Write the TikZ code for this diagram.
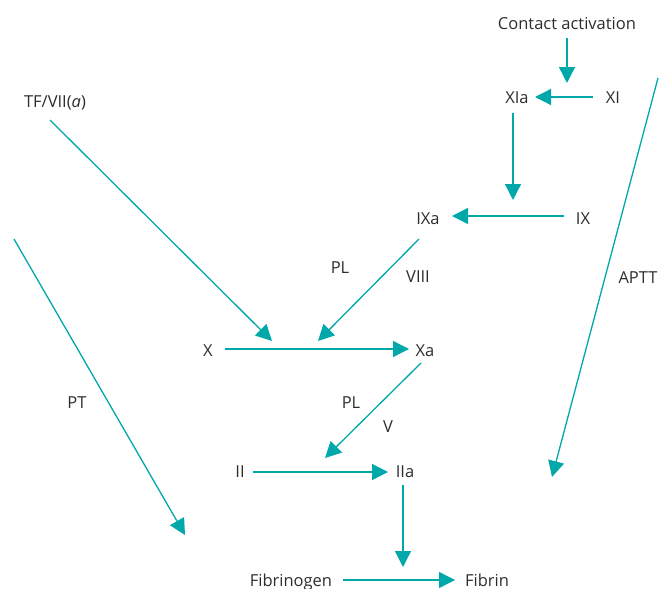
\documentclass[tikz,border=0pt]{standalone}
\usepackage{fontspec}
\setmainfont{Open Sans}
\usetikzlibrary{arrows.meta}
\definecolor{teal}{RGB}{0,168,170}
\definecolor{txt}{RGB}{45,45,45}
\begin{document}
\begin{tikzpicture}[x=1pt,y=-1pt,
  lbl/.style={font=\fontsize{16.5}{19}\selectfont, text=txt, inner sep=0pt, anchor=base},
  arr/.style={draw=teal, line width=1.3pt, -{Triangle[length=16pt,width=16pt]}},
  ln/.style={draw=teal, line width=1.3pt}]
\useasboundingbox (0,0) rectangle (659,589);
% nodes
\node[lbl] (CA) at (567,29) {Contact activation};
\node[lbl] (XIa) at (517,103) {XIa};
\node[lbl] (XI) at (613,103) {XI};
\node[lbl] (IXa) at (428,224) {IXa};
\node[lbl] (IX) at (583,224) {IX};
\node[lbl] (TF) at (55,107) {TF/VII(\textit{a})};
\node[lbl] (PLa) at (340,273) {PL};
\node[lbl] (VIII) at (418,282) {VIII};
\node[lbl] (X) at (208,356) {X};
\node[lbl] (Xa) at (425,356) {Xa};
\node[lbl] (PLb) at (351,408) {PL};
\node[lbl] (V) at (388,432) {V};
\node[lbl] (II) at (240,477) {II};
\node[lbl] (IIa) at (405,477) {IIa};
\node[lbl] (Fbg) at (291,586) {Fibrinogen};
\node[lbl] (Fbn) at (487,586) {Fibrin};
\node[lbl] (PT) at (77,408) {PT};
\node[lbl] (APTT) at (638,283) {APTT};
% free ends
\coordinate (caend) at (567,83);
\coordinate (xiaend) at (513,200);
\coordinate (tfend) at (272,341);
\coordinate (ixaend) at (318,341);
\coordinate (xaend) at (325,458);
\coordinate (iiaend) at (403,567);
\coordinate (ptstart) at (14,239);
\coordinate (ptend) at (185,535);
\coordinate (apttstart) at (658,78);
\coordinate (apttend) at (552,477);
% connectors
\draw[arr] ([shift={(0,9)}]CA.base) -- (caend);
\draw[arr] ([shift={(-20,-6)}]XI.base) -- ([shift={(18,-6)}]XIa.base);
\draw[arr] ([shift={(-4,10)}]XIa.base) -- (xiaend);
\draw[arr] ([shift={(-19,-8)}]IX.base) -- ([shift={(24,-8)}]IXa.base);
\draw[arr] ([shift={(-5,13)}]TF.base) -- (tfend);
\draw[arr] ([shift={(-9,15)}]IXa.base) -- (ixaend);
\draw[arr] ([shift={(17,-7)}]X.base) -- ([shift={(-16,-7)}]Xa.base);
\draw[arr] ([shift={(-4,7)}]Xa.base) -- (xaend);
\draw[arr] ([shift={(13,-5)}]II.base) -- ([shift={(-17,-5)}]IIa.base);
\draw[arr] ([shift={(-2,8)}]IIa.base) -- (iiaend);
\draw[arr] ([shift={(52,-6)}]Fbg.base) -- ([shift={(-32,-6)}]Fbn.base);
\draw[arr] (ptstart) -- (ptend);
\draw[arr] (apttstart) -- (apttend);
\end{tikzpicture}
\end{document}
